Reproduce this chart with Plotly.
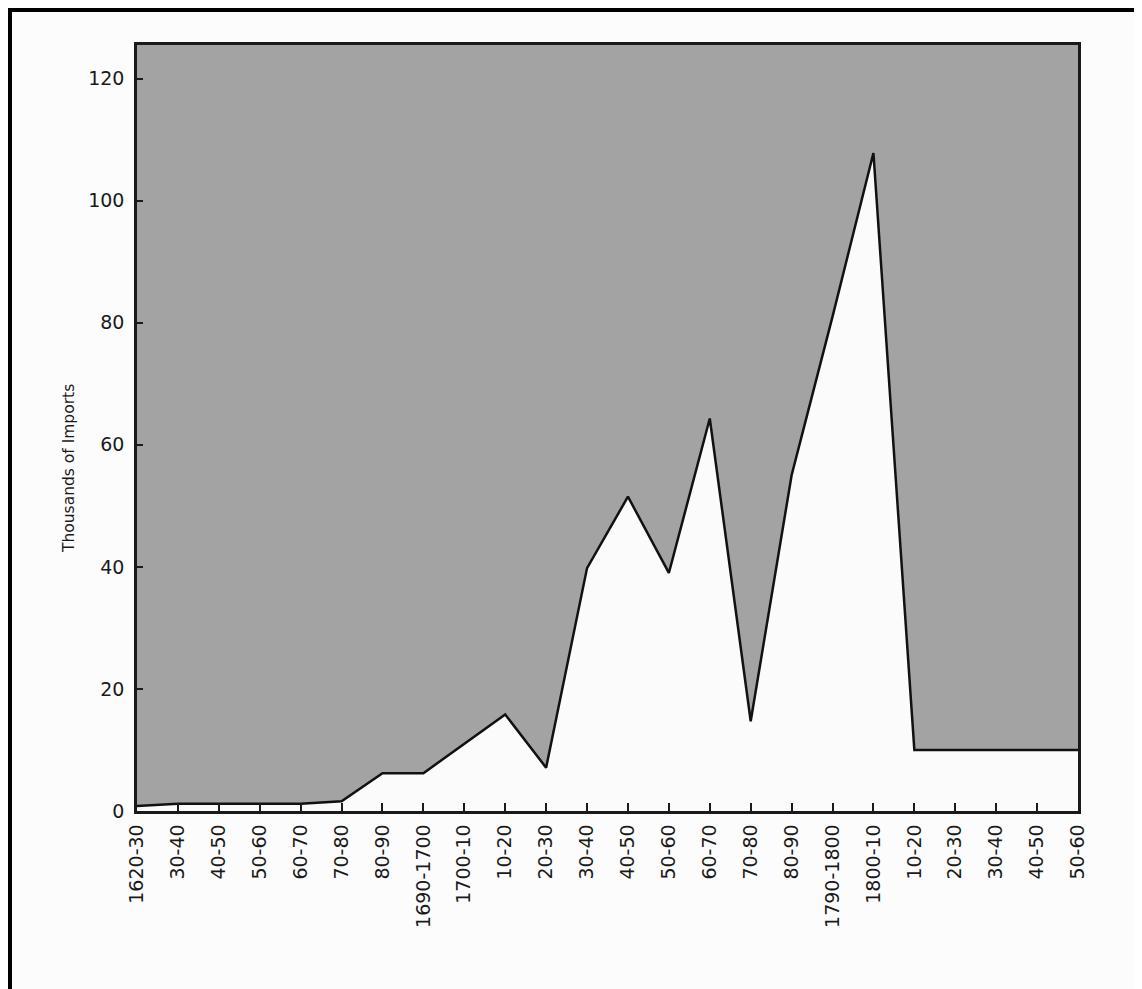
import plotly.graph_objects as go

periods = ["1620-30", "30-40", "40-50", "50-60", "60-70", "70-80", "80-90",
           "1690-1700", "1700-10", "10-20", "20-30", "30-40", "40-50", "50-60",
           "60-70", "70-80", "80-90", "1790-1800", "1800-10", "10-20", "20-30",
           "30-40", "40-50", "50-60"]
imports_thousands = [0.8, 1.2, 1.2, 1.2, 1.2, 1.6, 6.2, 6.2, 11.0, 15.8, 7.1,
                     39.8, 51.5, 39.0, 64.3, 14.7, 55.0, 81.0, 107.8, 10.0,
                     10.0, 10.0, 10.0, 10.0]
y_ticks = [0, 20, 40, 60, 80, 100, 120]

x_idx = list(range(len(periods)))

W, H = 1142, 989
O = 8  # page body margin offset
L, R, T, B = 137, 1078, 45, 811  # plot area in page pixels

fig = go.Figure()
fig.add_trace(go.Scatter(
    x=x_idx, y=imports_thousands, mode="lines",
    line=dict(color="#111111", width=2.5),
    fill="tozeroy", fillcolor="#fbfbfb",
    hoverinfo="skip", showlegend=False,
))

FONT = "DejaVu Sans"
TXT = "#1a1a1a"

def px(xp):
    return (xp - L) / (R - L)

def py(yp):
    return (B - yp) / (B - T)

fig.update_layout(
    width=W - O, height=H - O,
    margin=dict(l=L - O, r=W - R, t=T - O, b=H - B, pad=0),
    paper_bgcolor="#fcfcfc",
    plot_bgcolor="#a3a3a3",
    font=dict(family=FONT, color=TXT),
    xaxis=dict(
        range=[0, len(periods) - 1],
        tickmode="array", tickvals=x_idx, ticktext=periods,
        tickangle=-90, ticks="inside", ticklen=8, tickwidth=1.5,
        tickcolor=TXT,
        showline=True, linecolor="#1a1a1a", linewidth=2.5, mirror=True,
        showgrid=False, zeroline=False,
        tickfont=dict(family=FONT, size=19, color=TXT),
        ticklabelstandoff=3,
    ),
    yaxis=dict(
        range=[0, 125.5],
        tickmode="array", tickvals=y_ticks,
        ticks="inside", ticklen=6, tickwidth=1.5, tickcolor=TXT,
        showline=True, linecolor="#1a1a1a", linewidth=2.5, mirror=True,
        showgrid=False, zeroline=False,
        tickfont=dict(family=FONT, size=19, color=TXT),
        ticklabelstandoff=6,
    ),
    annotations=[dict(
        text="Thousands of Imports", textangle=-90,
        xref="paper", yref="paper",
        x=px(69), y=py(469),
        xanchor="center", yanchor="middle", showarrow=False,
        font=dict(family=FONT, size=15.5, color=TXT),
    )],
    shapes=[
        # thick scan border along top and left of the page
        dict(type="rect", xref="paper", yref="paper",
             x0=px(0), x1=px(W + 10),
             y0=py(12), y1=py(0),
             fillcolor="black", line=dict(width=0), layer="above"),
        dict(type="rect", xref="paper", yref="paper",
             x0=px(0), x1=px(12),
             y0=py(H + 10), y1=py(0),
             fillcolor="black", line=dict(width=0), layer="above"),
    ],
)

fig.write_html("out.html")
